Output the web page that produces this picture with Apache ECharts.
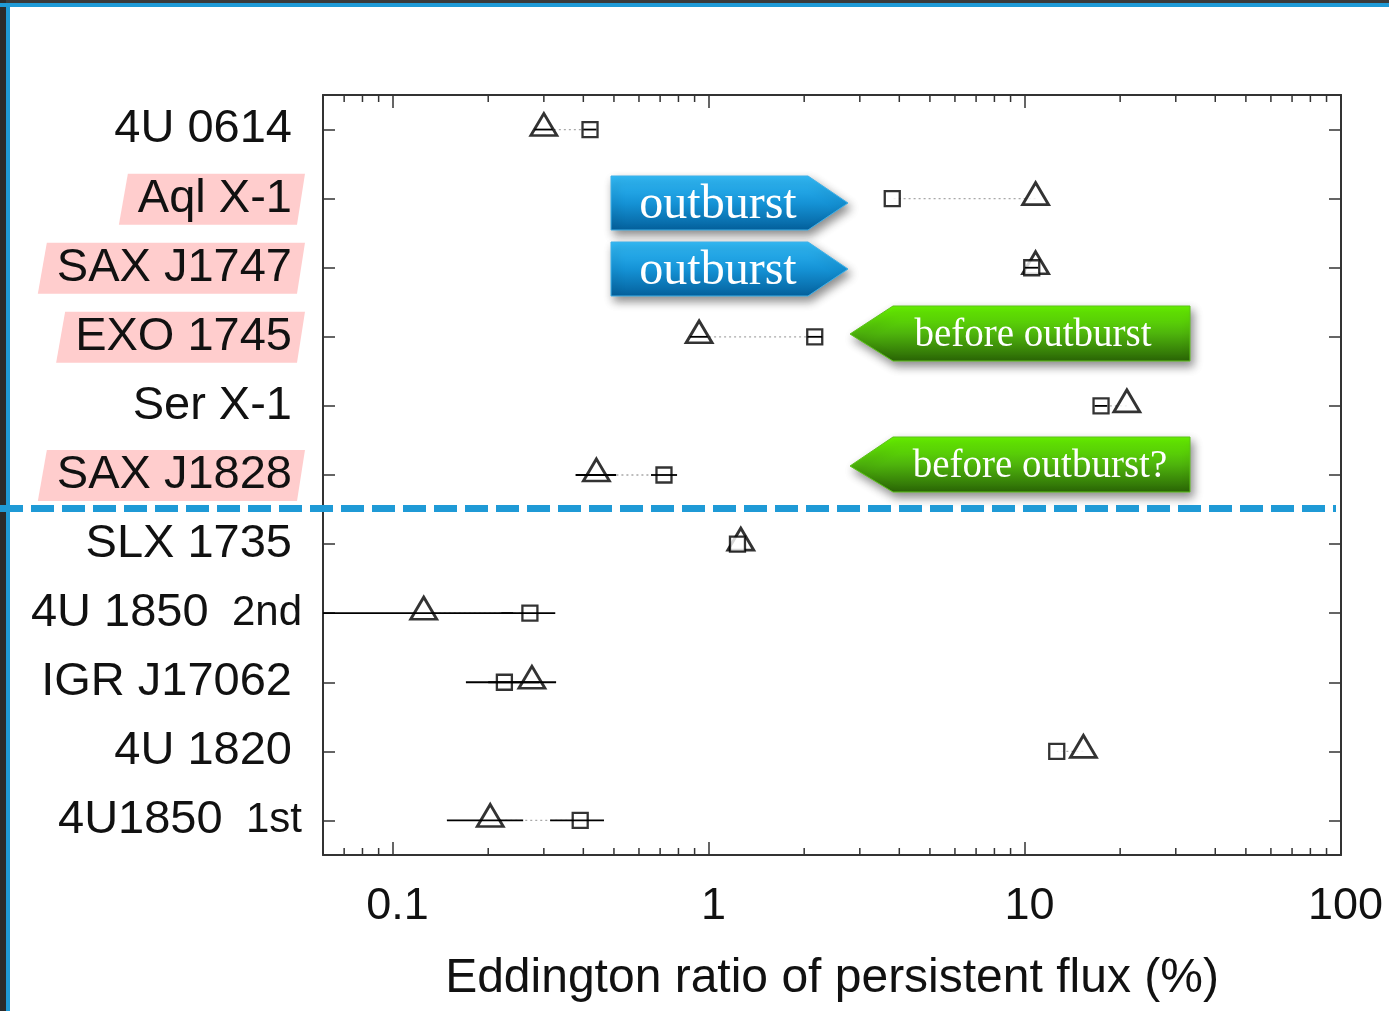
<!DOCTYPE html>
<html><head><meta charset="utf-8">
<script src="https://cdn.jsdelivr.net/npm/echarts@6/dist/echarts.min.js"></script>
<style>html,body{margin:0;padding:0;background:#fff}#c{width:1389px;height:1011px}</style>
</head><body><div id="c"></div>
<script>
// ---- data (top to bottom) ----
const categories = ['4U 0614','Aql X-1','SAX J1747','EXO 1745','Ser X-1','SAX J1828','SLX 1735','4U 1850  2nd','IGR J17062','4U 1820','4U1850  1st'];
const highlighted = ['Aql X-1','SAX J1747','EXO 1745','SAX J1828'];
const triangleVals = [0.30, 10.8, 10.8, 0.93, 21.0, 0.44, 1.26, 0.125, 0.275, 15.3, 0.203];
const squareVals   = [0.42, 3.8, 10.5, 2.16, 17.4, 0.72, 1.23, 0.271, 0.225, 12.6, 0.391];
const triLow   = [0.28, 10.8, 10.8, 0.87, 21.0, 0.378, 1.26, 0.03, 0.20, 15.3, 0.148];
const triHigh  = [0.32, 10.8, 10.8, 0.99, 21.0, 0.508, 1.26, 0.24, 0.328, 15.3, 0.258];
const sqLow    = [0.40, 3.8, 10.0, 2.05, 16.6, 0.655, 1.23, 0.22, 0.170, 12.6, 0.314];
const sqHigh   = [0.44, 3.8, 11.0, 2.28, 18.2, 0.792, 1.23, 0.326, 0.29, 12.6, 0.465];
const xTickLabels = ['0.1','1','10','100'];
const minorTickVals = [0.07,0.08,0.09,0.2,0.3,0.4,0.5,0.6,0.7,0.8,0.9,2,3,4,5,6,7,8,9,20,30,40,50,60,70,80,90];
const xTitle = 'Eddington ratio of persistent flux (%)';
const annotations = [
  {text:'outburst', kind:'blue'},
  {text:'outburst', kind:'blue'},
  {text:'before outburst', kind:'green'},
  {text:'before outburst?', kind:'green'}
];

const chart = echarts.init(document.getElementById('c'), null, {renderer:'canvas'});
const SANS = '"Liberation Sans", Arial, Helvetica, sans-serif';
const SERIF = '"Liberation Serif", "Times New Roman", serif';
const AX = '#333';

function isPow10(v){ const l = Math.log10(v); return Math.abs(l - Math.round(l)) < 1e-6; }

const xBase = {
  type:'log', logBase:10, min:0.06, max:100,
  splitLine:{show:false},
  axisLine:{show:true, lineStyle:{color:AX, width:2}},
  axisTick:{show:true, inside:true, length:13, lineStyle:{color:AX, width:1.5}}
};
const yBase = {
  type:'category', data:categories, inverse:true,
  axisLine:{show:true, lineStyle:{color:AX, width:2}},
  axisTick:{show:true, inside:true, length:12, alignWithLabel:true, lineStyle:{color:AX, width:1.5}},
  splitLine:{show:false}
};

const option = {
  animation:false,
  backgroundColor:'#fff',
  grid:{left:323, right:48, top:95, bottom:156},
  xAxis:[
    Object.assign({}, xBase, {
      position:'bottom',
      name:xTitle, nameLocation:'middle', nameGap:100,
      nameTextStyle:{fontFamily:SANS, fontSize:48, color:'#111'},
      axisLabel:{
        margin:29, fontFamily:SANS, fontSize:45, color:'#111', padding:[0,0,0,9],
        formatter:(v)=> isPow10(v) ? xTickLabels[Math.round(Math.log10(v))+1] : ''
      }
    }),
    Object.assign({}, xBase, {position:'top', axisLabel:{show:false}})
  ],
  yAxis:[
    Object.assign({}, yBase, {
      position:'left',
      axisLabel:{
        margin:21, color:'#111',
        formatter:(v)=>{
          const p = v.split('  ');
          if (p.length === 2) return '{a|' + p[0] + '}{b|  ' + p[1] + '}';
          return '{n|' + v + '}';
        },
        rich:{
          n:{fontFamily:SANS, fontSize:47, color:'#111', padding:[0,10,0,0]},
          a:{fontFamily:SANS, fontSize:47, color:'#111'},
          b:{fontFamily:SANS, fontSize:42, color:'#111'}
        }
      }
    }),
    Object.assign({}, yBase, {position:'right', axisLabel:{show:false}})
  ],
  series:[
    { // minor ticks on log axis (top & bottom)
      type:'custom', silent:true, z:1,
      data:minorTickVals.map(v=>[v]),
      encode:{x:0},
      renderItem:(params, api)=>{
        const x = api.coord([api.value(0), 0])[0];
        const cs = params.coordSys;
        const st = {stroke:AX, lineWidth:1.5};
        return {type:'group', children:[
          {type:'line', shape:{x1:x, y1:cs.y+cs.height, x2:x, y2:cs.y+cs.height-7}, style:st},
          {type:'line', shape:{x1:x, y1:cs.y, x2:x, y2:cs.y+7}, style:st}
        ]};
      }
    },
    { // dotted connectors
      type:'custom', silent:true, z:2,
      data:categories.map((c,i)=>[i, triangleVals[i], squareVals[i]]),
      encode:{y:0, x:[1,2]},
      renderItem:(params, api)=>{
        const a = api.coord([api.value(1), api.value(0)]);
        const b = api.coord([api.value(2), api.value(0)]);
        return {type:'line', shape:{x1:a[0], y1:a[1], x2:b[0], y2:b[1]},
          style:{stroke:'#a8a8a8', lineWidth:1.3, lineDash:[2,3]}};
      }
    },
    {
      type:'scatter', name:'triangle', z:3,
      symbol:'triangle', symbolSize:[26,22], symbolOffset:[0,-5],
      itemStyle:{color:'#fff', borderColor:'#000', borderWidth:2.8},
      data:categories.map((c,i)=>[triangleVals[i], c])
    },
    {
      type:'scatter', name:'square', z:3,
      symbol:'rect', symbolSize:15,
      itemStyle:{color:'#fff', borderColor:'#000', borderWidth:2.3},
      data:categories.map((c,i)=>[squareVals[i], c])
    },
    { // error bars
      type:'custom', silent:true, z:4,
      data:categories.map((c,i)=>[i, triLow[i], triHigh[i], sqLow[i], sqHigh[i]]),
      encode:{y:0, x:[1,2,3,4]},
      renderItem:(params, api)=>{
        const cs = params.coordSys;
        const kids = [];
        [[1,2],[3,4]].forEach(([lo,hi])=>{
          const p1 = api.coord([api.value(lo), api.value(0)]);
          const p2 = api.coord([api.value(hi), api.value(0)]);
          const x1 = Math.max(p1[0], cs.x), x2 = Math.min(p2[0], cs.x+cs.width);
          if (x2 - x1 > 0.5) kids.push({type:'line', shape:{x1:x1, y1:p1[1], x2:x2, y2:p1[1]}, style:{stroke:'#000', lineWidth:1.8}});
        });
        return {type:'group', children:kids};
      }
    }
  ]
};
chart.setOption(option);

// ---- decorations computed from the laid-out axes ----
const yPix = (i)=> chart.convertToPixel({yAxisIndex:0}, categories[i]);
const gridLeft = 323;
const ctx = document.createElement('canvas').getContext('2d');
ctx.font = '47px "Liberation Sans", Arial, sans-serif';
const els = [];
// frame
els.push({type:'rect', z:100, shape:{x:0,y:0,width:1389,height:3}, style:{fill:'#3a3a3a'}});
els.push({type:'rect', z:100, shape:{x:0,y:0,width:6,height:1011}, style:{fill:'#2b2b2b'}});
els.push({type:'rect', z:101, shape:{x:0,y:3,width:1389,height:4}, style:{fill:'#1f9ad6'}});
els.push({type:'rect', z:101, shape:{x:6,y:3,width:4,height:1008}, style:{fill:'#1f9ad6'}});
// pink label highlights
highlighted.forEach(name=>{
  const i = categories.indexOf(name);
  const yc = yPix(i);
  const textRight = gridLeft - 21 - 10;
  const w = ctx.measureText(name).width;
  const l = textRight - w - 15;
  els.push({type:'polygon', z:-5,
    shape:{points:[[l+5,yc-25],[305,yc-25],[297,yc+26],[l-4,yc+26]]},
    style:{fill:'#ffcdcd'}});
});
// dashed separator between SAX J1828 and SLX 1735
const ySep = (yPix(5) + yPix(6)) / 2 - 1;
els.push({type:'line', z:120, shape:{x1:0, y1:ySep, x2:1336, y2:ySep},
  style:{stroke:'#1f9ad6', lineWidth:7, lineDash:[23,8]}});
// annotation arrows
const blueGrad = new echarts.graphic.LinearGradient(0,0,0,1,[{offset:0,color:'#33bcf8'},{offset:0.5,color:'#1593d6'},{offset:1,color:'#04609c'}]);
const greenGrad = new echarts.graphic.LinearGradient(0,0,0,1,[{offset:0,color:'#68f500'},{offset:0.5,color:'#4eb40c'},{offset:1,color:'#2a6406'}]);
const shadow = {shadowBlur:10, shadowOffsetX:3, shadowOffsetY:5, shadowColor:'rgba(0,0,0,0.45)'};
const arrowSpecs = [
  {pts:[[611,176],[808,176],[848,203],[808,230],[611,230]], tx:718, ty:205, fs:48},
  {pts:[[611,242],[808,242],[848,269],[808,296],[611,296]], tx:718, ty:271, fs:48},
  {pts:[[850,334],[893,306],[1190,306],[1190,361],[893,361]], tx:1033, ty:336, fs:39},
  {pts:[[850,466],[893,437],[1190,437],[1190,492],[893,492]], tx:1040, ty:467, fs:39}
];
annotations.forEach((a,k)=>{
  const s = arrowSpecs[k];
  els.push({type:'polygon', z:60, shape:{points:s.pts},
    style:Object.assign({fill: a.kind==='blue'?blueGrad:greenGrad,
      stroke: a.kind==='blue'?'#3fb0e8':'#5cc21a', lineWidth:1}, shadow)});
  els.push({type:'text', z:61, x:s.tx, y:s.ty,
    style:{text:a.text, fill:'#fff', font:s.fs+'px '+SERIF, textAlign:'center', textVerticalAlign:'middle'}});
});
chart.setOption({graphic:{elements:els}});
</script></body></html>
